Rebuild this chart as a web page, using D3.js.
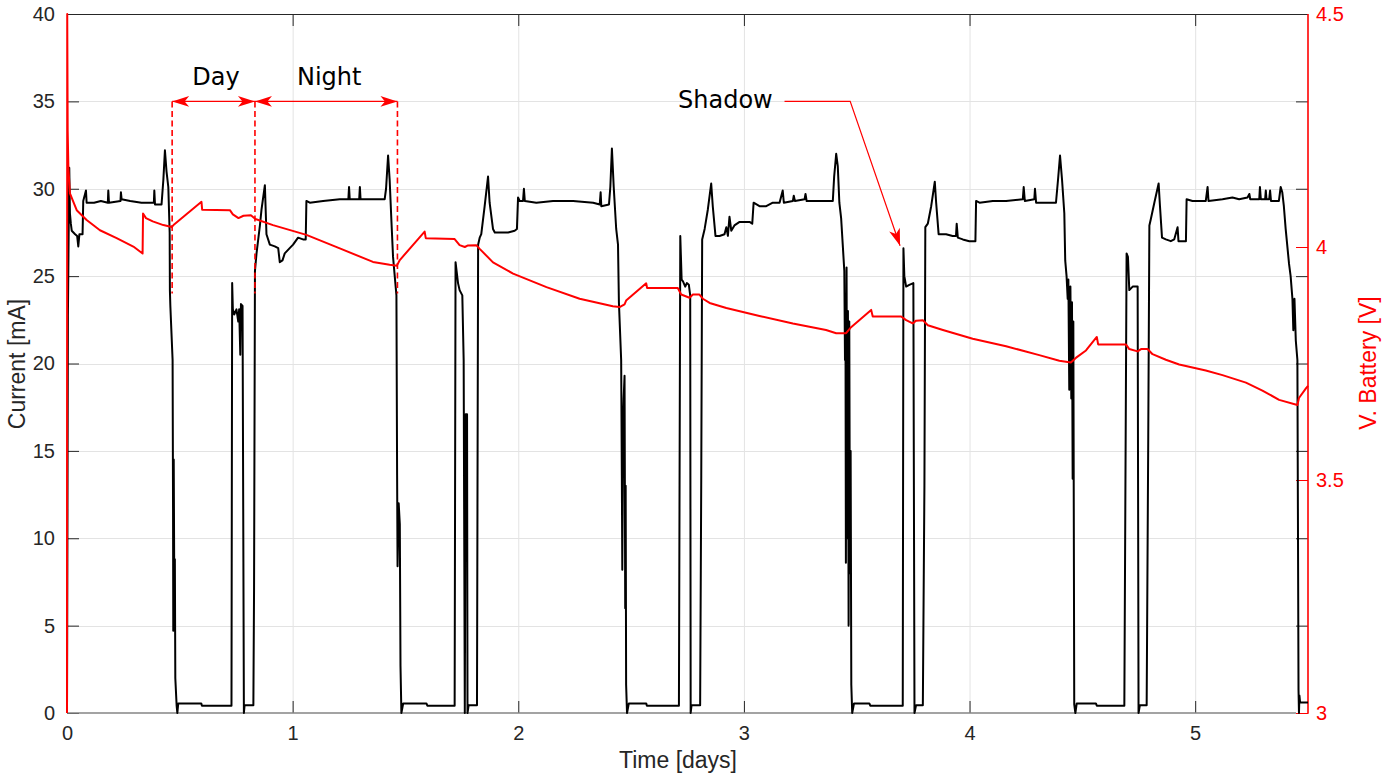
<!DOCTYPE html>
<html><head><meta charset="utf-8">
<script src="https://cdn.jsdelivr.net/npm/d3@7"></script>
<style>body{margin:0;background:#fff}svg{display:block}</style>
</head><body>
<svg id="chart" width="1390" height="777"></svg>
<script>
// ---------- data (days, mA / V) ----------
const xTicks = [0, 1, 2, 3, 4, 5];
const currentTicks = [0, 5, 10, 15, 20, 25, 30, 35, 40];
const voltageTicks = [3, 3.5, 4, 4.5];

const currentSeries = [
[0.000,0.0],[0.004,22.7],[0.010,31.2],[0.013,28.6],[0.017,28.0],[0.021,27.6],[0.036,27.4],[0.045,27.3],[0.050,26.7],[0.055,27.4],[0.069,27.4],[0.072,29.3],[0.084,29.9],[0.087,29.2],[0.120,29.2],[0.150,29.3],[0.181,29.2],[0.183,29.9],[0.186,29.2],[0.237,29.3],[0.239,29.8],[0.242,29.4],[0.280,29.3],[0.330,29.2],[0.385,29.2],[0.387,29.9],[0.390,29.1],[0.419,29.1],[0.427,30.5],[0.434,32.2],[0.441,31.0],[0.449,30.1],[0.455,27.5],[0.456,24.2],[0.458,23.3],[0.468,20.2],[0.470,11.7],[0.471,4.7],[0.473,14.5],[0.475,8.6],[0.478,8.8],[0.480,2.0],[0.486,0.4],[0.489,0.0],[0.493,0.55],[0.595,0.55],[0.598,0.42],[0.729,0.42],
[0.732,24.6],[0.735,23.1],[0.741,22.8],[0.751,23.1],[0.759,22.4],[0.763,23.1],[0.768,20.5],[0.771,23.4],[0.778,23.3],[0.784,0.0],[0.787,0.45],[0.826,0.45],[0.829,7.1],[0.833,25.3],[0.840,26.3],[0.855,27.9],[0.862,28.8],[0.877,30.2],[0.884,27.4],[0.899,26.8],[0.921,26.7],[0.936,26.6],[0.943,25.8],[0.955,25.9],[0.965,26.3],[0.987,26.6],[1.002,26.8],[1.024,27.2],[1.046,27.1],[1.058,27.1],[1.061,29.3],[1.076,29.2],[1.135,29.3],[1.209,29.4],[1.247,29.4],[1.250,30.1],[1.253,29.4],[1.295,29.4],[1.298,30.1],[1.301,29.4],[1.386,29.4],[1.408,29.4],[1.414,30.0],[1.423,31.9],[1.430,30.5],[1.438,28.1],[1.445,26.1],[1.460,23.9],[1.463,13.6],[1.465,8.4],[1.470,12.0],[1.475,10.8],[1.478,2.7],[1.482,0.0],[1.490,0.55],[1.593,0.55],[1.597,0.42],[1.718,0.42],
[1.722,25.8],[1.733,24.6],[1.740,24.2],[1.752,23.9],[1.758,20.2],[1.763,0.0],[1.767,17.1],[1.773,17.1],[1.775,0.0],[1.780,0.45],[1.817,0.45],[1.822,26.8],[1.829,27.2],[1.836,27.4],[1.851,29.0],[1.866,30.7],[1.873,29.2],[1.888,27.7],[1.896,27.5],[1.918,27.5],[1.955,27.5],[1.984,27.6],[1.994,27.7],[1.999,29.5],[2.006,29.3],[2.021,29.3],[2.025,30.0],[2.029,29.3],[2.080,29.2],[2.154,29.3],[2.243,29.3],[2.332,29.2],[2.361,29.1],[2.365,29.8],[2.368,29.0],[2.402,29.1],[2.408,30.1],[2.415,32.3],[2.423,30.1],[2.434,27.7],[2.442,26.8],[2.446,23.5],[2.456,20.2],[2.459,13.6],[2.461,8.2],[2.465,17.0],[2.467,18.0],[2.471,19.3],[2.474,6.0],[2.476,13.0],[2.478,1.6],[2.482,0.0],[2.490,0.55],[2.567,0.55],[2.570,0.42],[2.712,0.42],
[2.718,27.3],[2.724,24.8],[2.730,24.7],[2.740,24.4],[2.747,24.6],[2.756,24.5],[2.762,23.9],[2.764,0.0],[2.768,0.45],[2.806,0.45],[2.811,13.6],[2.815,27.1],[2.826,27.7],[2.840,28.8],[2.855,30.3],[2.862,29.0],[2.874,27.3],[2.892,27.3],[2.914,27.4],[2.922,27.8],[2.929,27.3],[2.936,28.4],[2.944,27.6],[2.958,27.9],[2.981,28.1],[3.025,28.1],[3.037,28.0],[3.043,29.2],[3.069,29.0],[3.099,29.0],[3.128,29.2],[3.158,29.2],[3.172,29.9],[3.177,29.2],[3.217,29.3],[3.221,29.6],[3.226,29.3],[3.269,29.4],[3.273,29.7],[3.278,29.3],[3.335,29.3],[3.394,29.3],[3.400,30.7],[3.409,32.0],[3.416,31.3],[3.423,29.2],[3.431,28.3],[3.438,26.8],[3.445,25.3],[3.448,20.2],[3.450,24.0],[3.452,8.6],[3.455,25.5],[3.458,10.0],[3.461,23.0],[3.464,5.0],[3.467,22.4],[3.470,8.0],[3.473,15.0],[3.476,1.6],[3.480,0.0],[3.488,0.55],[3.556,0.55],[3.560,0.42],[3.704,0.42],
[3.707,26.6],[3.711,25.0],[3.719,24.4],[3.733,24.5],[3.751,24.6],[3.756,0.0],[3.763,0.45],[3.793,0.45],[3.800,13.0],[3.804,27.8],[3.815,28.0],[3.830,29.0],[3.846,30.4],[3.852,29.2],[3.863,27.4],[3.896,27.4],[3.925,27.3],[3.940,27.3],[3.943,28.0],[3.948,27.2],[3.970,27.1],[3.999,27.0],[4.026,27.0],[4.029,29.3],[4.044,29.2],[4.103,29.3],[4.162,29.3],[4.236,29.4],[4.240,30.1],[4.245,29.3],[4.287,29.4],[4.290,30.0],[4.295,29.2],[4.383,29.2],[4.392,30.5],[4.401,31.9],[4.410,30.5],[4.420,28.6],[4.424,25.9],[4.430,25.0],[4.435,23.7],[4.438,24.8],[4.442,18.5],[4.447,24.4],[4.451,18.0],[4.454,23.5],[4.457,13.4],[4.460,22.4],[4.464,0.5],[4.469,0.0],[4.475,0.55],[4.560,0.55],[4.564,0.42],[4.686,0.42],
[4.696,26.3],[4.702,26.1],[4.708,24.2],[4.723,24.4],[4.745,24.4],[4.749,0.0],[4.755,0.45],[4.785,0.45],[4.792,15.8],[4.797,27.9],[4.804,28.3],[4.819,29.2],[4.838,30.3],[4.844,29.0],[4.853,27.2],[4.870,27.1],[4.892,27.0],[4.907,27.1],[4.922,27.8],[4.926,27.0],[4.959,27.0],[4.962,29.4],[4.988,29.3],[5.047,29.3],[5.055,30.1],[5.059,29.3],[5.121,29.4],[5.165,29.5],[5.195,29.4],[5.232,29.5],[5.240,29.7],[5.244,29.4],[5.284,29.4],[5.287,30.1],[5.291,29.4],[5.310,29.4],[5.313,29.9],[5.316,29.4],[5.328,29.4],[5.332,29.9],[5.336,29.3],[5.371,29.3],[5.379,30.1],[5.386,29.8],[5.393,29.0],[5.401,27.7],[5.416,25.7],[5.423,25.0],[5.431,23.7],[5.435,21.9],[5.440,23.7],[5.446,21.3],[5.453,20.2],[5.458,1.3],[5.460,0.0],[5.462,1.0],[5.465,0.6],[5.500,0.6]
];

const voltageSeries = [
[0.000,3.0],[0.001,4.5],[0.003,4.25],[0.006,4.172],[0.013,4.115],[0.043,4.079],[0.087,4.058],[0.146,4.036],[0.220,4.019],[0.294,4.001],[0.335,3.986],[0.337,4.072],[0.350,4.062],[0.380,4.055],[0.427,4.047],[0.464,4.043],[0.472,4.047],[0.596,4.097],[0.599,4.080],[0.722,4.079],[0.735,4.070],[0.760,4.062],[0.782,4.067],[0.815,4.068],[0.835,4.060],[0.913,4.047],[1.061,4.026],[1.209,3.997],[1.356,3.968],[1.430,3.962],[1.462,3.960],[1.475,3.972],[1.585,4.033],[1.590,4.019],[1.718,4.017],[1.740,4.004],[1.763,4.000],[1.775,4.003],[1.814,4.004],[1.829,3.996],[1.888,3.967],[1.977,3.943],[2.125,3.914],[2.272,3.889],[2.419,3.873],[2.449,3.871],[2.471,3.877],[2.478,3.885],[2.567,3.922],[2.571,3.912],[2.707,3.912],[2.722,3.898],[2.759,3.891],[2.774,3.898],[2.803,3.898],[2.818,3.889],[2.848,3.880],[2.922,3.869],[3.069,3.852],[3.217,3.836],[3.364,3.822],[3.409,3.815],[3.453,3.815],[3.475,3.828],[3.564,3.865],[3.571,3.851],[3.697,3.851],[3.719,3.843],[3.748,3.836],[3.763,3.842],[3.793,3.843],[3.815,3.832],[3.882,3.822],[4.014,3.803],[4.162,3.787],[4.309,3.768],[4.398,3.756],[4.449,3.752],[4.471,3.762],[4.516,3.778],[4.564,3.807],[4.570,3.791],[4.693,3.791],[4.708,3.781],[4.745,3.776],[4.760,3.781],[4.789,3.781],[4.811,3.770],[4.870,3.758],[4.929,3.748],[5.047,3.735],[5.121,3.725],[5.225,3.709],[5.298,3.692],[5.372,3.672],[5.453,3.661],[5.460,3.676],[5.490,3.696],[5.500,3.702]
];

// annotation anchors in data units
const phaseBounds = [0.466, 0.833, 1.4645];
const phaseNames = ["Day", "Night"];
const phaseLabelDays = [0.660, 1.162];
const phaseArrowLevel = 35;
const phaseDashBottom = 24;
const shadowPath = [[3.180, 35], [3.471, 35], [3.692, 26.74]];
const shadowLabel = {text: "Shadow", t: 2.918, y: 34.62};

// ---------- layout ----------
const plot = {left: 67, top: 14, right: 1308, bottom: 713};
const AX = "#262626", RED = "#ff0000", GRID = "#e3e3e3";
const TICKFONT = "'Liberation Sans', Arial, sans-serif";
const x = d3.scaleLinear().domain([0, 5.5]).range([plot.left, plot.right]);
const yL = d3.scaleLinear().domain([0, 40]).range([plot.bottom, plot.top]);
const yR = d3.scaleLinear().domain([3, 4.5]).range([plot.bottom, plot.top]);

const svg = d3.select("#chart");
svg.append("rect").attr("width", 1390).attr("height", 777).attr("fill", "#fff");

svg.append("defs").append("clipPath").attr("id", "clip").append("rect")
  .attr("x", plot.left - 1).attr("y", plot.top - 1)
  .attr("width", plot.right - plot.left + 2).attr("height", plot.bottom - plot.top + 2);

// grid
const grid = svg.append("g");
grid.selectAll("line.v").data(xTicks.filter(d => d > 0)).join("line")
  .attr("x1", d => x(d) + 0.5).attr("x2", d => x(d) + 0.5)
  .attr("y1", plot.top).attr("y2", plot.bottom).attr("stroke", GRID).attr("stroke-width", 1);
grid.selectAll("line.h").data(currentTicks.filter(d => d > 0 && d < 40)).join("line")
  .attr("y1", d => Math.round(yL(d)) + 0.5).attr("y2", d => Math.round(yL(d)) + 0.5)
  .attr("x1", plot.left).attr("x2", plot.right).attr("stroke", GRID).attr("stroke-width", 1);

// axes
function styleAxis(g, color, fontSize) {
  g.select(".domain").remove();
  g.selectAll(".tick line").attr("stroke", color).attr("stroke-width", 1);
  g.selectAll(".tick text").attr("fill", color).attr("font-family", TICKFONT).attr("font-size", fontSize);
}
svg.append("g").attr("transform", `translate(0,${plot.bottom})`)
  .call(d3.axisBottom(x).tickValues(xTicks).tickSize(-12).tickPadding(13).tickFormat(d => String(d)))
  .call(g => styleAxis(g, AX, 20));
svg.append("g").attr("transform", `translate(0,${plot.top})`)
  .call(d3.axisTop(x).tickValues(xTicks).tickSize(-12).tickFormat(""))
  .call(g => styleAxis(g, AX, 20));
svg.append("g").attr("transform", `translate(${plot.left},0)`)
  .call(d3.axisLeft(yL).tickValues(currentTicks).tickSize(-12).tickPadding(12).tickFormat(d => String(d)))
  .call(g => styleAxis(g, AX, 20));
svg.append("g").attr("transform", `translate(${plot.right},0)`)
  .call(d3.axisRight(yL).tickValues(currentTicks).tickSize(-12).tickFormat(""))
  .call(g => styleAxis(g, AX, 20));
svg.append("g").attr("transform", `translate(${plot.right},0)`)
  .call(d3.axisRight(yR).tickValues(voltageTicks).tickSize(-12).tickPadding(8).tickFormat(d => String(d)))
  .call(g => styleAxis(g, RED, 20));

// frame
svg.append("line").attr("x1", plot.left).attr("x2", plot.right).attr("y1", plot.top + 0.5).attr("y2", plot.top + 0.5).attr("stroke", AX);
svg.append("line").attr("x1", plot.left).attr("x2", plot.right - 12).attr("y1", plot.bottom).attr("y2", plot.bottom).attr("stroke", "#858585").attr("stroke-width", 1.6);
svg.append("line").attr("x1", plot.left + 0.5).attr("x2", plot.left + 0.5).attr("y1", plot.top).attr("y2", plot.bottom).attr("stroke", AX);
svg.append("line").attr("x1", plot.right).attr("x2", plot.right).attr("y1", plot.top).attr("y2", plot.bottom + 0.8).attr("stroke", RED).attr("stroke-width", 1.6);

// data
const data = svg.append("g").attr("clip-path", "url(#clip)");
data.append("path").datum(currentSeries)
  .attr("d", d3.line().x(d => x(d[0])).y(d => yL(d[1])))
  .attr("fill", "none").attr("stroke", "#000").attr("stroke-width", 2).attr("stroke-linejoin", "round");
data.append("path").datum(voltageSeries)
  .attr("d", d3.line().x(d => x(d[0])).y(d => yR(d[1])))
  .attr("fill", "none").attr("stroke", RED).attr("stroke-width", 2).attr("stroke-linejoin", "round");

// axis titles
svg.append("text").attr("x", 678).attr("y", 768).attr("text-anchor", "middle")
  .attr("font-family", TICKFONT).attr("font-size", 23).attr("fill", AX).text("Time [days]");
svg.append("text").attr("transform", "translate(25,364) rotate(-90)").attr("text-anchor", "middle")
  .attr("font-family", TICKFONT).attr("font-size", 23).attr("fill", AX).text("Current [mA]");
svg.append("text").attr("transform", "translate(1376,363) rotate(-90)").attr("text-anchor", "middle")
  .attr("font-family", TICKFONT).attr("font-size", 23).attr("fill", RED).text("V. Battery [V]");

// annotations
function headPath(tx, ty, fx, fy, L = 17, W = 5.4, notch = 4.5) {
  const dx = tx - fx, dy = ty - fy, len = Math.hypot(dx, dy);
  const ux = dx / len, uy = dy / len, nx = -uy, ny = ux;
  const bx = tx - ux * L, by = ty - uy * L;
  return `M${tx},${ty}L${bx + nx * W},${by + ny * W}L${tx - ux * (L - notch)},${ty - uy * (L - notch)}L${bx - nx * W},${by - ny * W}Z`;
}
const ann = svg.append("g");
const ay = yL(phaseArrowLevel);
ann.selectAll("line.dash").data(phaseBounds).join("line")
  .attr("x1", d => x(d)).attr("x2", d => x(d))
  .attr("y1", ay).attr("y2", yL(phaseDashBottom))
  .attr("stroke", RED).attr("stroke-width", 1.6).attr("stroke-dasharray", "6,3.5");
for (let i = 0; i < phaseNames.length; i++) {
  const a = x(phaseBounds[i]), b = x(phaseBounds[i + 1]);
  ann.append("line").attr("x1", a).attr("x2", b).attr("y1", ay).attr("y2", ay)
    .attr("stroke", RED).attr("stroke-width", 1.4);
  ann.append("path").attr("d", headPath(a, ay, b, ay)).attr("fill", RED);
  ann.append("path").attr("d", headPath(b, ay, a, ay)).attr("fill", RED);
  ann.append("text").attr("x", x(phaseLabelDays[i])).attr("y", yL(35.94))
    .attr("text-anchor", "middle").attr("font-family", "'DejaVu Sans', sans-serif")
    .attr("font-size", 24).attr("fill", "#000").text(phaseNames[i]);
}
const sp = shadowPath.map(d => [x(d[0]), yL(d[1])]);
ann.append("path").attr("d", d3.line()(sp)).attr("fill", "none").attr("stroke", RED).attr("stroke-width", 1.2);
const n = sp.length;
ann.append("path").attr("d", headPath(sp[n - 1][0], sp[n - 1][1], sp[n - 2][0], sp[n - 2][1], 17, 5.6, 4.5)).attr("fill", RED);
ann.append("text").attr("x", x(shadowLabel.t)).attr("y", yL(shadowLabel.y))
  .attr("text-anchor", "middle").attr("font-family", "'DejaVu Sans', sans-serif")
  .attr("font-size", 24).attr("fill", "#000").text(shadowLabel.text);
</script>
</body></html>
